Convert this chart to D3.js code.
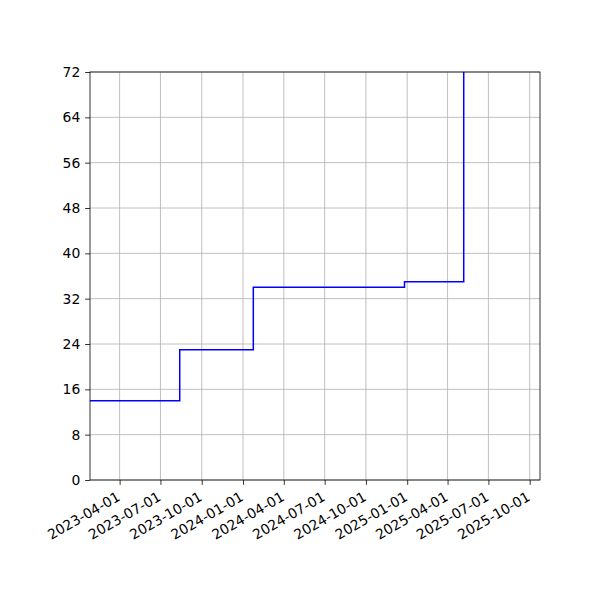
<!DOCTYPE html>
<html>
<head>
<meta charset="utf-8">
<script src="https://cdn.jsdelivr.net/npm/d3@7"></script>
<style>
  html, body { margin: 0; padding: 0; background: #fff; }
  svg { display: block; }
  text { font-family: "DejaVu Sans", sans-serif; }
</style>
</head>
<body>
<svg id="chart" width="600" height="600"></svg>
<script>
// Data (step series: value holds from each date until the next)
const dates = ["2023-01-25", "2023-08-13", "2024-01-24", "2024-12-26", "2025-05-07"];
const values = [14, 23, 34, 35, 72];
const xDomain = ["2023-01-25", "2025-10-24"];
const xTickLabels = ["2023-04-01", "2023-07-01", "2023-10-01", "2024-01-01", "2024-04-01",
  "2024-07-01", "2024-10-01", "2025-01-01", "2025-04-01", "2025-07-01", "2025-10-01"];
const yTicks = [0, 8, 16, 24, 32, 40, 48, 56, 64, 72];

const parse = d3.utcParse("%Y-%m-%d");
const data = dates.map((d, i) => ({ date: parse(d), value: values[i] }));

const margin = { left: 90, right: 60, top: 72, bottom: 120 };
const W = 600, H = 600;
const iw = W - margin.left - margin.right;
const ih = H - margin.top - margin.bottom;

const svg = d3.select("#chart");
const g = svg.append("g").attr("transform", `translate(${margin.left},${margin.top})`);

const x = d3.scaleUtc().domain(xDomain.map(parse)).range([0, iw]);
const y = d3.scaleLinear().domain([0, 72]).range([ih, 0]);

// Grid
g.append("g").selectAll("line").data(xTickLabels.map(parse)).join("line")
  .attr("x1", d => x(d)).attr("x2", d => x(d))
  .attr("y1", 0).attr("y2", ih)
  .attr("stroke", "#b0b0b0").attr("stroke-width", 0.8);
g.append("g").selectAll("line").data(yTicks).join("line")
  .attr("x1", 0).attr("x2", iw)
  .attr("y1", d => y(d)).attr("y2", d => y(d))
  .attr("stroke", "#b0b0b0").attr("stroke-width", 0.8);

// Line
const clipId = "clip";
svg.append("defs").append("clipPath").attr("id", clipId)
  .append("rect").attr("width", iw).attr("height", ih);

const line = d3.line().x(d => x(d.date)).y(d => y(d.value)).curve(d3.curveStepAfter);
g.append("path").datum(data)
  .attr("clip-path", `url(#${clipId})`)
  .attr("fill", "none").attr("stroke", "#0000ff").attr("stroke-width", 1.5)
  .attr("stroke-linejoin", "miter")
  .attr("d", line);

// Axes
const xAxis = d3.axisBottom(x).tickValues(xTickLabels.map(parse))
  .tickFormat(d3.utcFormat("%Y-%m-%d")).tickSizeInner(4.86).tickSizeOuter(0).tickPadding(4.86);
const gx = g.append("g").attr("transform", `translate(0,${ih})`).call(xAxis);
gx.select(".domain").remove();
gx.selectAll(".tick line").attr("stroke", "#000").attr("stroke-width", 0.8);
gx.selectAll(".tick text")
  .attr("font-size", 13.9).attr("fill", "#000")
  .attr("text-anchor", "end")
  .attr("y", 0).attr("dy", "0.72em")
  .attr("transform", "translate(-4,11) rotate(-30)");

const yAxis = d3.axisLeft(y).tickValues(yTicks).tickSizeInner(4.86).tickSizeOuter(0).tickPadding(4.86);
const gy = g.append("g").call(yAxis);
gy.select(".domain").remove();
gy.selectAll(".tick line").attr("stroke", "#000").attr("stroke-width", 0.8);
gy.selectAll(".tick text").attr("font-size", 13.9).attr("fill", "#000");

// Frame
g.append("rect").attr("width", iw).attr("height", ih)
  .attr("fill", "none").attr("stroke", "#000").attr("stroke-width", 0.8);
</script>
</body>
</html>
